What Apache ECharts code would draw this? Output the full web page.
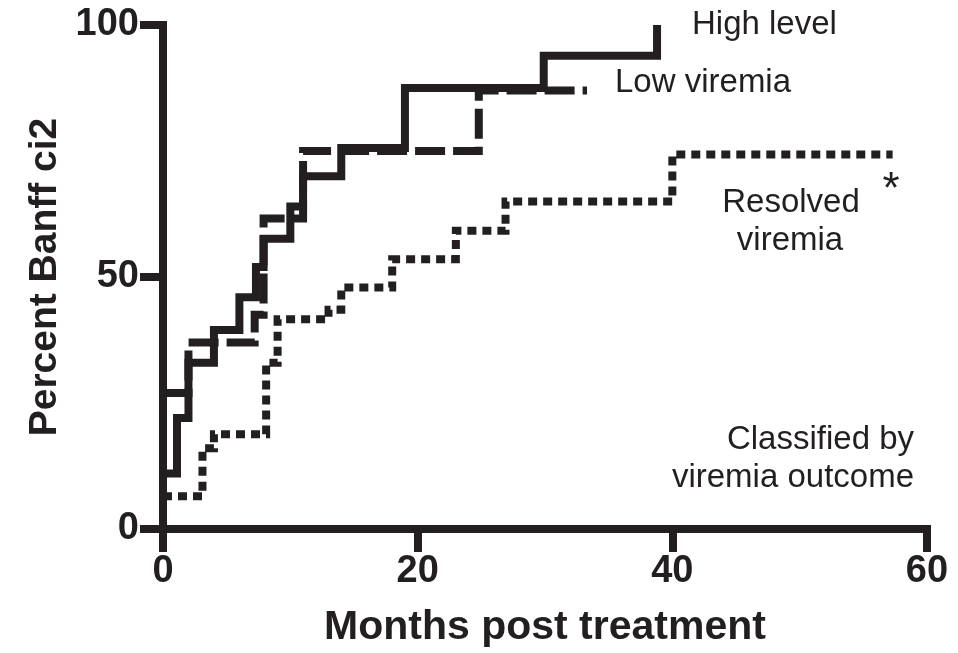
<!DOCTYPE html>
<html><head><meta charset="utf-8">
<script src="https://cdn.jsdelivr.net/npm/echarts@6/dist/echarts.min.js"></script>
<style>html,body{margin:0;padding:0;background:#fff}#c{width:958px;height:653px}</style>
</head><body><div id="c"></div>
<script>
// ---- data ----
const xTicks = [0, 20, 40, 60];
const yTicks = [0, 50, 100];
const xTitle = 'Months post treatment';
const yTitle = 'Percent Banff ci2';
const seriesNames = ['High level', 'Low viremia', 'Resolved viremia'];
// [month, percent after step]
const highLevel = [[0,11],[1.1,22],[2,33],[4,39.5],[6,46],[7.3,52],[7.9,57.6],[10,64],[11,70],[14,75.6],[19,87.5],[29.9,93.9],[38.8,100]];
const lowViremia = [[0,27],[2,37],[7.2,42.5],[7.9,61.6],[11,75],[24.8,87],[33.3,87]];
const resolvedViremia = [[0,6.5],[3.1,16],[4,18.8],[8.1,33],[9,41.6],[13,43.5],[14,47.9],[18,53.5],[23,59.2],[26.9,65],[40,74.3],[57.3,74.3]];
const noteLines = ['Classified by', 'viremia outcome'];
const sigMark = '*';

const INK = '#231f20';
const FONT = "'Liberation Sans', Arial, sans-serif";

const chart = echarts.init(document.getElementById('c'), null, {renderer:'canvas'});

function lineSeries(name, data, type) {
  return {
    name, type:'line', step:'end', data, showSymbol:false, symbol:'none', clip:false,
    silent:true, animation:false,
    lineStyle:{color:INK, width:8, type, cap:'butt', join:'miter'},
    emphasis:{disabled:true}
  };
}

const option = {
  animation:false,
  grid:{left:163, right:31, top:25, bottom:123},
  xAxis:{
    type:'value', min:xTicks[0], max:xTicks[xTicks.length-1], interval:20,
    axisLine:{show:true, lineStyle:{color:INK, width:8, cap:'square'}},
    axisTick:{show:true, length:23, lineStyle:{color:INK, width:8}},
    axisLabel:{show:true, margin:24, color:INK, fontSize:38, fontWeight:'bold', fontFamily:FONT},
    splitLine:{show:false},
    name:xTitle, nameLocation:'middle', nameGap:78,
    nameTextStyle:{color:INK, fontSize:41, fontWeight:'bold', fontFamily:FONT}
  },
  yAxis:{
    type:'value', min:yTicks[0], max:yTicks[yTicks.length-1], interval:50,
    axisLine:{show:true, lineStyle:{color:INK, width:8, cap:'square'}},
    axisTick:{show:true, length:23, lineStyle:{color:INK, width:8}},
    axisLabel:{show:true, margin:24, color:INK, fontSize:38, fontWeight:'bold', fontFamily:FONT},
    splitLine:{show:false},
    name:yTitle, nameLocation:'middle', nameGap:92,
    nameTextStyle:{color:INK, fontSize:39, fontWeight:'bold', fontFamily:FONT}
  },
  series:[
    lineSeries(seriesNames[0], highLevel, 'solid'),
    lineSeries(seriesNames[1], lowViremia, [30, 8]),
    lineSeries(seriesNames[2], resolvedViremia, [9, 6])
  ],
  graphic:[
    {type:'text', x:692, y:25, style:{text:seriesNames[0], font:`33px ${FONT}`, fill:INK, textAlign:'left', textVerticalAlign:'middle'}},
    {type:'text', x:615, y:83, style:{text:seriesNames[1], font:`33px ${FONT}`, fill:INK, textAlign:'left', textVerticalAlign:'middle'}},
    {type:'text', x:791, y:203, style:{text:seriesNames[2].split(' ')[0], font:`33px ${FONT}`, fill:INK, textAlign:'center', textVerticalAlign:'middle'}},
    {type:'text', x:790, y:241, style:{text:seriesNames[2].split(' ')[1], font:`33px ${FONT}`, fill:INK, textAlign:'center', textVerticalAlign:'middle'}},
    {type:'text', x:891, y:191, style:{text:sigMark, font:`44px ${FONT}`, fill:INK, textAlign:'center', textVerticalAlign:'middle'}},
    {type:'text', x:914, y:440, style:{text:noteLines[0], font:`33px ${FONT}`, fill:INK, textAlign:'right', textVerticalAlign:'middle'}},
    {type:'text', x:914, y:478, style:{text:noteLines[1], font:`33px ${FONT}`, fill:INK, textAlign:'right', textVerticalAlign:'middle'}}
  ]
};
chart.setOption(option);
</script>
</body></html>
